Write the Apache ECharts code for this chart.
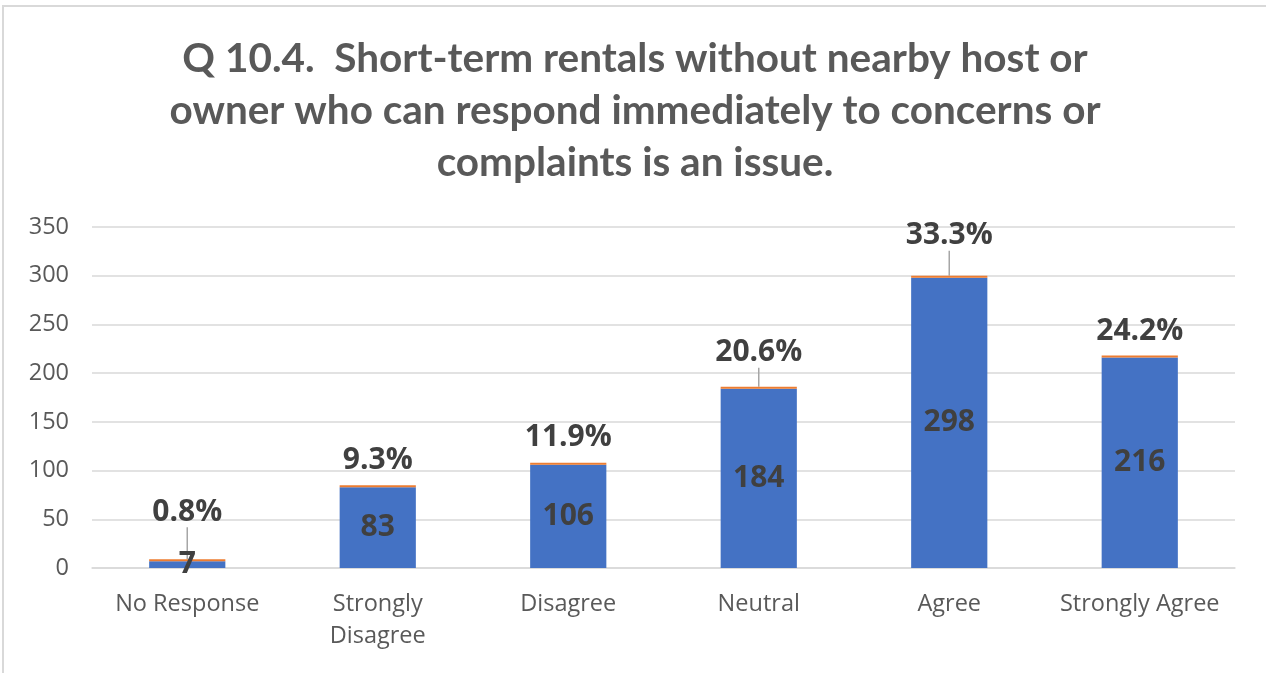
<!DOCTYPE html>
<html><head><meta charset="utf-8">
<script src="https://cdn.jsdelivr.net/npm/echarts@6/dist/echarts.min.js"></script>
<style>
html,body{margin:0;padding:0;background:#fff;}
#c{position:absolute;left:2px;top:5px;width:1264px;height:668px;border:2px solid #d9d9d9;border-bottom:none;border-right:none;box-sizing:border-box;}
</style></head><body>
<div id="c"></div>
<script>
var categories = ['No Response', 'Strongly\nDisagree', 'Disagree', 'Neutral', 'Agree', 'Strongly Agree'];
var counts = [7, 83, 106, 184, 298, 216];
var percents = [0.8, 9.3, 11.9, 20.6, 33.3, 24.2];
var yTicks = [0, 50, 100, 150, 200, 250, 300, 350];
var titleText = 'Q 10.4.  Short-term rentals without nearby host or\nowner who can respond immediately to concerns or\ncomplaints is an issue.';

var TFONT = 'Lato, sans-serif';
var FONT = '"Open Sans", sans-serif';
var labelDy = [-30, -8, -8, -17, -23, -7];
var showLeader = [true, false, false, true, true, false];
var chart = echarts.init(document.getElementById('c'));
chart.setOption({
  animation: false,
  title: {
    text: titleText, left: 'center', top: 21,
    textStyle: {fontFamily: TFONT, fontSize: 40.5, fontWeight: 'bold', color: '#595959', lineHeight: 52}
  },
  grid: {left: 88, right: 31, top: 220, bottom: 105, containLabel: false},
  xAxis: {
    type: 'category', data: categories,
    axisTick: {show: false},
    axisLine: {lineStyle: {color: '#d9d9d9', width: 1.5}},
    axisLabel: {fontFamily: FONT, fontSize: 23.5, color: '#595959', margin: 20, lineHeight: 32, interval: 0}
  },
  yAxis: {
    type: 'value', min: yTicks[0], max: yTicks[yTicks.length - 1], interval: 50,
    axisLine: {show: false}, axisTick: {show: false},
    splitLine: {lineStyle: {color: '#d9d9d9', width: 1.5}},
    axisLabel: {fontFamily: FONT, fontSize: 23.5, color: '#595959', margin: 23}
  },
  series: [
    {
      type: 'bar', stack: 'a', data: counts, barWidth: '40%',
      itemStyle: {color: '#4472C4'},
      label: {show: true, position: 'inside', fontFamily: FONT, fontSize: 30, fontWeight: 'bold', color: '#404040'}
    },
    {
      type: 'bar', stack: 'a', barMinHeight: 2,
      data: percents.map(function (p, i) {
        return {value: p / 100, labelLine: {show: showLeader[i]}};
      }),
      itemStyle: {color: '#ED7D31'},
      label: {
        show: true, position: 'top', distance: 2,
        fontFamily: FONT, fontSize: 30, fontWeight: 'bold', color: '#404040',
        formatter: function (p) { return percents[p.dataIndex].toFixed(1) + '%'; }
      },
      labelLayout: function (params) { return {dy: labelDy[params.dataIndex]}; },
      labelLine: {show: true, lineStyle: {color: '#a6a6a6', width: 1.5}}
    }
  ]
});
</script>
</body></html>
